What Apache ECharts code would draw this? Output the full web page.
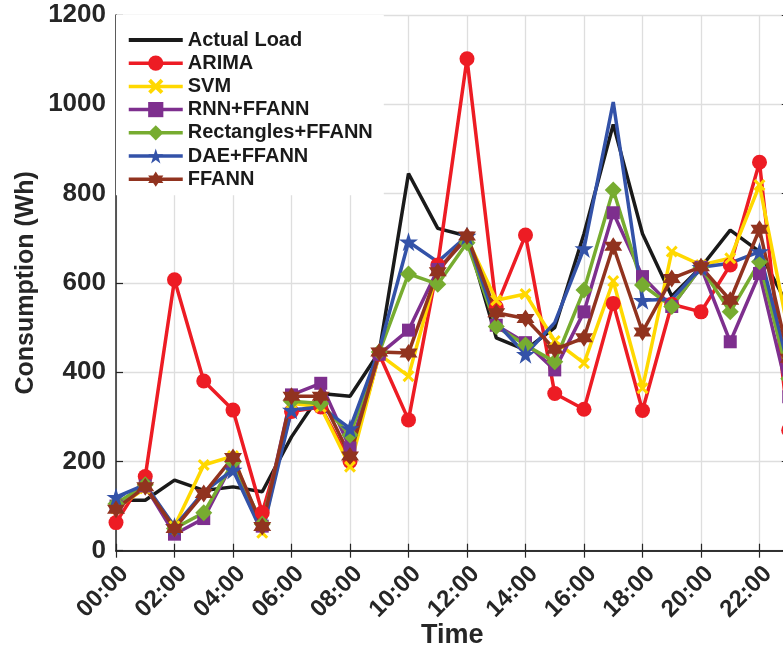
<!DOCTYPE html>
<html>
<head>
<meta charset="utf-8">
<script src="https://cdn.jsdelivr.net/npm/echarts@6/dist/echarts.min.js"></script>
<style>html,body{margin:0;padding:0;background:#fff;}#c{width:783px;height:653px;}</style>
</head>
<body>
<div id="c"></div>
<script>
const hours = ['00:00','01:00','02:00','03:00','04:00','05:00','06:00','07:00','08:00','09:00','10:00','11:00',
               '12:00','13:00','14:00','15:00','16:00','17:00','18:00','19:00','20:00','21:00','22:00','23:00'];
const yTicks = [0, 200, 400, 600, 800, 1000, 1200];
const actualLoad = [113, 113, 158, 135, 143, 132, 255, 352, 346, 445, 845, 722, 705, 477, 450, 500, 710, 955, 710, 570, 635, 718, 670, 545];
const arima      = [63, 166, 607, 380, 315, 85, 312, 322, 200, 440, 293, 640, 1102, 546, 707, 352, 317, 554, 314, 552, 535, 640, 870, 270];
const svm        = [95, 140, 55, 192, 212, 40, 330, 322, 188, 440, 391, 630, 700, 561, 575, 470, 420, 604, 364, 670, 640, 655, 819, 485];
const rnn        = [100, 145, 37, 72, 198, 55, 349, 375, 230, 440, 494, 630, 700, 505, 466, 405, 535, 757, 614, 547, 635, 468, 621, 345];
const rect       = [105, 148, 50, 85, 198, 60, 335, 330, 259, 445, 620, 597, 690, 502, 461, 423, 584, 808, 595, 547, 635, 535, 647, 385];
const dae        = [120, 148, 54, 132, 181, 40, 315, 322, 274, 450, 692, 647, 705, 511, 440, 511, 677, 1005, 561, 563, 635, 644, 670, 410];
const ffann      = [93, 143, 50, 128, 209, 54, 346, 346, 212, 445, 443, 625, 705, 533, 520, 451, 477, 682, 490, 610, 636, 561, 720, 431];
const seriesNames = ['Actual Load', 'ARIMA', 'SVM', 'RNN+FFANN', 'Rectangles+FFANN', 'DAE+FFANN', 'FFANN'];

const PENTA = 'path://M50 0 L61.23 34.55 L97.55 34.55 L68.17 55.9 L79.39 90.45 L50 69.1 L20.61 90.45 L31.83 55.9 L2.45 34.55 L38.77 34.55 Z';
const HEXA = 'path://M50 0 L64.43 25 L93.3 25 L78.87 50 L93.3 75 L64.43 75 L50 100 L35.57 75 L6.7 75 L21.13 50 L6.7 25 L35.57 25 Z';
const XMARK = 'path://M0 18 L18 0 L50 32 L82 0 L100 18 L68 50 L100 82 L82 100 L50 68 L18 100 L0 82 L32 50 Z';
const LINEICON = 'path://M0 0 H100 V7 H0 Z';

const FONT = 'Liberation Sans';
const AX = '#262626';
const gridW = 672.75, gridLeft = 116, gridTop = 15, gridH = 535.7;

function mk(name, data, color, symbol, size) {
  return {
    name, type: 'line', data,
    symbol: symbol || 'none', symbolSize: size || 0, showSymbol: !!symbol,
    lineStyle: { color, width: 3.5 },
    itemStyle: { color, borderWidth: 0 },
    emphasis: { disabled: true },
    animation: false, clip: true
  };
}

const legendData = seriesNames.map((n, i) => i === 0 ? { name: n, icon: LINEICON } : { name: n });

const chart = echarts.init(document.getElementById('c'), null, { renderer: 'canvas' });
chart.setOption({
  backgroundColor: '#fff',
  animation: false,
  grid: { left: gridLeft, top: gridTop, width: gridW, height: gridH, containLabel: false, outerBoundsMode: 'none' },
  legend: {
    orient: 'vertical', left: 116, top: 15,
    padding: [15, 11, 6, 11],
    backgroundColor: '#fff',
    itemWidth: 54, itemHeight: 19, itemGap: 3.2,
    symbolKeepAspect: true,
    lineStyle: { width: 3.5 },
    data: legendData,
    textStyle: { fontFamily: FONT, fontWeight: 'bold', fontSize: 20, color: '#1a1a1a', lineHeight: 19 }
  },
  xAxis: [{
    type: 'category', data: hours, boundaryGap: false, position: 'bottom',
    axisLine: { lineStyle: { color: AX, width: 1.5 } },
    axisTick: { inside: true, length: 7, interval: 1, lineStyle: { color: AX, width: 1.2 } },
    axisLabel: { interval: 1, rotate: 45, margin: 11, verticalAlign: 'top', fontFamily: FONT, fontWeight: 'bold', fontSize: 24, color: AX },
    splitLine: { show: true, interval: 1, lineStyle: { color: '#dedede', width: 1.3 } },
    name: 'Time', nameLocation: 'middle', nameGap: 71, nameMoveOverlap: false,
    nameTextStyle: { fontFamily: FONT, fontWeight: 'bold', fontSize: 27, color: AX }
  }, {
    type: 'category', data: hours, boundaryGap: false, position: 'top',
    axisLine: { lineStyle: { color: AX, width: 1.5 } },
    axisTick: { inside: true, length: 7, interval: 1, lineStyle: { color: AX, width: 1.2 } },
    axisLabel: { show: false }, splitLine: { show: false }
  }],
  yAxis: [{
    type: 'value', min: yTicks[0], max: yTicks[yTicks.length - 1], interval: 200, position: 'left',
    axisLine: { show: true, lineStyle: { color: AX, width: 1.5 } },
    axisTick: { show: true, inside: true, length: 7, lineStyle: { color: AX, width: 1.2 } },
    axisLabel: { margin: 10, formatter: v => String(v), fontFamily: FONT, fontWeight: 'bold', fontSize: 26, color: AX },
    splitLine: { show: true, lineStyle: { color: '#dedede', width: 1.3 } },
    name: 'Consumption (Wh)', nameLocation: 'middle', nameGap: 77, nameMoveOverlap: false,
    nameTextStyle: { fontFamily: FONT, fontWeight: 'bold', fontSize: 25, color: AX }
  }, {
    type: 'value', min: yTicks[0], max: yTicks[yTicks.length - 1], interval: 200, position: 'right',
    axisLine: { show: true, lineStyle: { color: AX, width: 1.5 } },
    axisTick: { show: true, inside: true, length: 7, lineStyle: { color: AX, width: 1.2 } },
    axisLabel: { show: false }, splitLine: { show: false }
  }],
  series: [
    mk(seriesNames[0], actualLoad, '#1a1a1a'),
    mk(seriesNames[1], arima, '#ED1C24', 'circle', 15),
    mk(seriesNames[2], svm, '#FFD800', XMARK, 12),
    mk(seriesNames[3], rnn, '#7E2F8E', 'rect', 13),
    mk(seriesNames[4], rect, '#77AC30', 'diamond', 17),
    mk(seriesNames[5], dae, '#3352A8', PENTA, 19),
    mk(seriesNames[6], ffann, '#91331F', HEXA, 18)
  ]
});
</script>
</body>
</html>
